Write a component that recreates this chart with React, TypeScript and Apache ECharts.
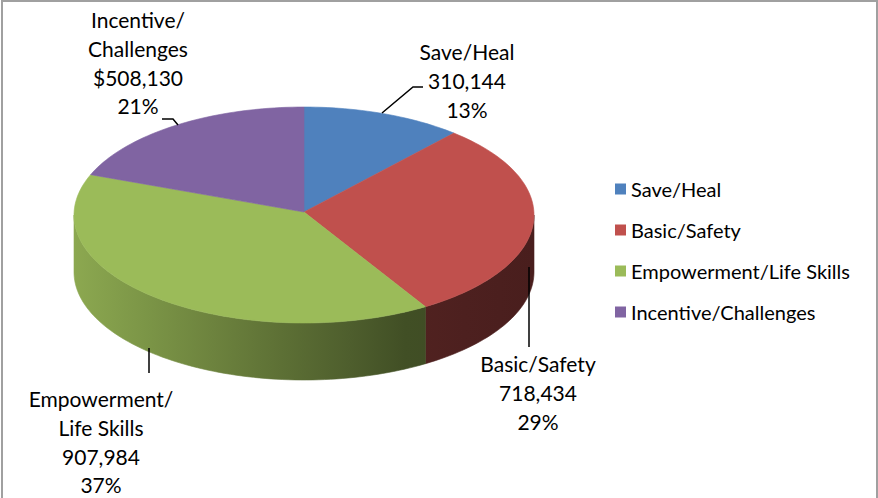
import React, { useEffect, useRef } from "react";
import * as echarts from "echarts";

const categories = ["Save/Heal", "Basic/Safety", "Empowerment/Life Skills", "Incentive/Challenges"];
const values = [310144, 718434, 907984, 508130];
const labelNames = ["Save/Heal", "Basic/Safety", "Empowerment/\nLife Skills", "Incentive/\nChallenges"];
const valuePrefixes = ["", "", "", "$"];
const colors = ["#4F81BD", "#C0504D", "#9BBB59", "#8064A2"];

// layout (pixels)
const PX = 304, PY = 212; // apex of the slices
const EX = 304, EY = 215, RX = 230, RY = 108, DEPTH = 57; // rim ellipse
const PERSP = 0.122; // perspective skew of the rim angles
const FONT = "Lato, 'Noto Sans', sans-serif";
const labelLayout = [
  { x: 467, y: 37, leader: [[382, 113], [413, 87], [423, 87]] },
  { x: 538, y: 349, leader: [[529, 267], [529, 347]] },
  { x: 101, y: 384, leader: [[149, 348], [149, 373]] },
  { x: 138, y: 5, leader: [[178, 125], [173, 119], [162, 119]] },
];

function shade(hex: string, f: number) {
  const n = parseInt(hex.slice(1), 16);
  const r = Math.round(((n >> 16) & 255) * f);
  const g = Math.round(((n >> 8) & 255) * f);
  const b = Math.round((n & 255) * f);
  return `rgb(${r},${g},${b})`;
}

const skew = (t: number) => t - PERSP * Math.sin(t);
function rimPhi(phi: number, dy = 0): number[] {
  return [EX + RX * Math.sin(phi), EY - RY * Math.cos(phi) + dy];
}

export default function App() {
  const ref = useRef<HTMLDivElement>(null);
  useEffect(() => {
    document.body.style.margin = "0";
    const chart = echarts.init(ref.current!, null, { renderer: "svg" });
    const total = values.reduce((a, b) => a + b, 0);
    const starts: number[] = [];
    let acc = 0;
    values.forEach((v) => {
      starts.push(acc);
      acc += v;
    });

    const series = categories.map((name, i) => ({
      type: "custom",
      name,
      coordinateSystem: "none",
      color: colors[i],
      itemStyle: { color: colors[i] },
      data: [[values[i]]],
      renderItem: (params: any, api: any) => {
        const v = api.value(0) as number;
        const a0 = skew((starts[i] / total) * Math.PI * 2);
        const a1 = skew(((starts[i] + v) / total) * Math.PI * 2);
        const children: any[] = [];
        const steps = Math.max(8, Math.ceil(((a1 - a0) / (Math.PI * 2)) * 240));
        // side wall (front half only)
        const s0 = Math.max(a0, Math.PI / 2);
        const s1 = Math.min(a1, (Math.PI * 3) / 2);
        if (s1 > s0) {
          const top: number[][] = [];
          const bot: number[][] = [];
          const n = Math.max(6, Math.ceil(((s1 - s0) / (Math.PI * 2)) * 240));
          for (let k = 0; k <= n; k++) {
            const t = s0 + ((s1 - s0) * k) / n;
            top.push(rimPhi(t));
            bot.push(rimPhi(t, DEPTH));
          }
          const pts = top.concat(bot.reverse());
          const fx = (t: number) => {
            if (t < 0.45) return 0.9 - (0.3 * t) / 0.45;
            if (t < 0.72) return 0.6 - (0.18 * (t - 0.45)) / 0.27;
            return 0.42 - (0.04 * (t - 0.72)) / 0.28;
          };
          const stops = [0, 0.15, 0.3, 0.45, 0.6, 0.72, 0.85, 1].map((t) => ({
            offset: t,
            color: shade(colors[i], fx(t)),
          }));
          const grad = new echarts.graphic.LinearGradient(EX - RX, 0, EX + RX, 0, stops, true);
          children.push({
            type: "polygon",
            shape: { points: pts },
            style: { fill: grad, stroke: grad, lineWidth: 0.6 },
          });
        }
        // top face
        const topPts: number[][] = [[PX, PY]];
        for (let k = 0; k <= steps; k++) {
          topPts.push(rimPhi(a0 + ((a1 - a0) * k) / steps));
        }
        children.push({
          type: "polygon",
          shape: { points: topPts },
          style: { fill: colors[i], stroke: colors[i], lineWidth: 0.6 },
        });
        // label
        const lay = labelLayout[i];
        const pct = Math.round((v / total) * 100);
        children.push({
          type: "polyline",
          shape: { points: lay.leader },
          style: { stroke: "#000", lineWidth: 1.5, fill: null },
          z2: 10,
        });
        children.push({
          type: "text",
          x: lay.x,
          y: lay.y,
          z2: 10,
          style: {
            text: `${labelNames[i]}\n${valuePrefixes[i]}${v.toLocaleString("en-US")}\n${pct}%`,
            fill: "#000",
            fontFamily: FONT,
            fontSize: 21,
            lineHeight: 28.8,
            align: "center",
            verticalAlign: "top",
          },
        });
        return { type: "group", children };
      },
    }));

    chart.setOption({
      animation: false,
      backgroundColor: "#fff",
      color: colors,
      legend: {
        orient: "vertical",
        left: 610,
        top: 174,
        icon: "rect",
        itemWidth: 11,
        itemHeight: 11,
        itemGap: 21,
        data: categories,
        textStyle: { fontFamily: FONT, fontSize: 20, color: "#000", lineHeight: 20 },
      },
      graphic: [
        {
          type: "rect",
          shape: { x: 2, y: 1, width: 875, height: 510 },
          style: { fill: null, stroke: "#a0a0a0", lineWidth: 2 },
          silent: true,
        },
      ],
      series,
    });
    return () => chart.dispose();
  }, []);
  return <div ref={ref} style={{ width: 878, height: 498 }} />;
}
